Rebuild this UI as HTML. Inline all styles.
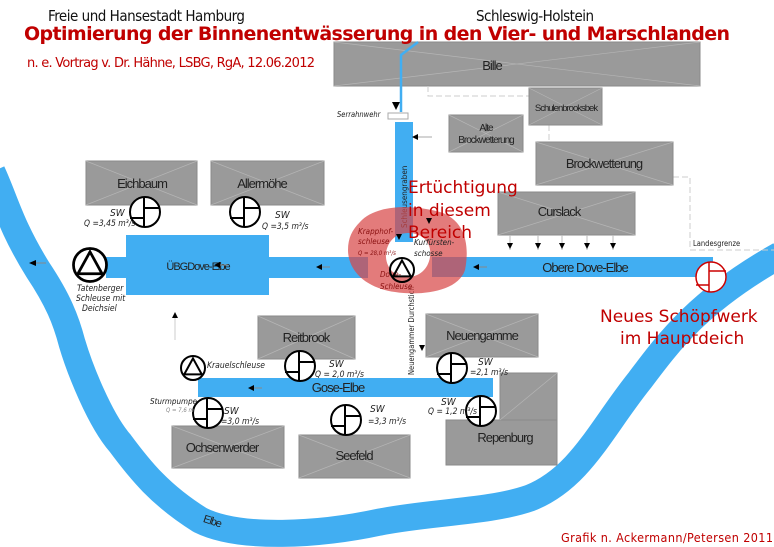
<!DOCTYPE html>
<html><head><meta charset="utf-8"><style>
html,body{margin:0;padding:0;background:#fff;width:774px;height:547px;overflow:hidden}
svg{display:block}
.bx{fill:#9a9a9a;stroke:#8a8a8a;stroke-width:1}
.bl{font-family:"Liberation Sans Narrow","Liberation Sans",sans-serif;font-size:13px;fill:#222;letter-spacing:-1px;text-anchor:middle}
.sm{font-family:"DejaVu Sans Condensed","Liberation Sans",sans-serif;font-style:italic;font-size:8px;fill:#222}
.sw{font-family:"DejaVu Sans Condensed","Liberation Sans",sans-serif;font-style:italic;font-size:10px;fill:#222}
.red{fill:#c00000;font-family:"DejaVu Sans","Liberation Sans",sans-serif}
</style></head><body>
<svg width="774" height="547" viewBox="0 0 774 547" xmlns="http://www.w3.org/2000/svg">
<defs>
<g id="pump"><circle r="15" fill="#fff" stroke="#000" stroke-width="2"/><line x1="-1" y1="-15" x2="-1" y2="15" stroke="#000" stroke-width="2"/><line x1="-1" y1="-4" x2="15" y2="-4" stroke="#000" stroke-width="2"/><line x1="-15" y1="6" x2="-1" y2="6" stroke="#000" stroke-width="2"/></g>
<g id="lock"><circle r="15" fill="#fff" stroke="#000" stroke-width="2.5"/><path d="M0,-12 L-11,8 L11,8 Z" fill="none" stroke="#000" stroke-width="2.5"/></g>
</defs>
<!-- Elbe -->
<path d="M-8,172 C5,200 10,225 38,270 C58,300 66,320 72,343 C80,370 100,420 120,443 C140,470 160,495 200,520 C240,540 320,535 380,522 C430,512 490,512 530,498 C580,478 600,430 640,380 C670,340 700,300 780,255" fill="none" stroke="#41aef2" stroke-width="27"/>
<text x="203" y="525" transform="rotate(18 213 522)" class="bl" style="font-size:11px;text-anchor:start">Elbe</text>
<!-- titles -->
<text x="48" y="21" font-family="DejaVu Sans Condensed,Liberation Sans,sans-serif" font-size="15" fill="#111" textLength="197">Freie und Hansestadt Hamburg</text>
<text x="476" y="21" font-family="DejaVu Sans Condensed,Liberation Sans,sans-serif" font-size="15" fill="#111" textLength="118">Schleswig-Holstein</text>
<!-- Bille -->
<rect x="334" y="42" width="366" height="44" class="bx"/>
<path d="M334,42 L700,86 M700,42 L334,86" stroke="#b5b5b5" stroke-width="0.7"/>
<text x="24" y="40" font-family="DejaVu Sans,Liberation Sans,sans-serif" font-weight="bold" font-size="19" fill="#c00000" textLength="706">Optimierung der Binnenentwässerung in den Vier- und Marschlanden</text>
<text x="27" y="67" class="red" font-size="13" textLength="288">n. e. Vortrag v. Dr. Hähne, LSBG, RgA, 12.06.2012</text>
<text x="492" y="70" class="bl">Bille</text>
<!-- dashed grey lines -->
<path d="M428,86 L428,96 L532,96 M549,125 L549,178 L537,178 M673,177 L690,177 L690,250 L774,250" fill="none" stroke="#ccc" stroke-width="1" stroke-dasharray="6 3"/>
<text x="693" y="246" class="sm" style="font-style:normal;font-size:7.5px">Landesgrenze</text>
<!-- small blue feeder -->
<path d="M418,42 L401,55 L401,112" fill="none" stroke="#41aef2" stroke-width="2.5"/>
<rect x="388" y="113" width="20" height="6" fill="#fff" stroke="#aaa"/>
<text x="337" y="117" class="sm" style="font-size:7.5px">Serrahnwehr</text>
<path d="M392,102 L396,110 L400,102Z" fill="#000"/>
<!-- Schleusengraben -->
<rect x="395" y="122" width="18" height="120" fill="#41aef2"/>
<text transform="translate(407,228) rotate(-90)" class="sm" style="font-style:normal;font-size:8px">Schleusengraben</text>
<path d="M432,137 L418,137" stroke="#aaa"/><path d="M418,134 L412,137 L418,140Z" fill="#000"/>
<!-- other boxes -->
<g>
<rect x="449" y="115" width="74" height="37" class="bx"/><path d="M449,115 L523,152 M523,115 L449,152" stroke="#b5b5b5" stroke-width="0.7"/>
<text x="486" y="131" class="bl" style="font-size:10px">Alte</text><text x="486" y="143" class="bl" style="font-size:10px">Brockwetterung</text>
<rect x="529" y="88" width="73" height="37" class="bx"/><path d="M529,88 L602,125 M602,88 L529,125" stroke="#b5b5b5" stroke-width="0.7"/>
<text x="566" y="111" class="bl" style="font-size:9.5px">Schulenbrooksbek</text>
<rect x="536" y="142" width="137" height="43" class="bx"/><path d="M536,142 L673,185 M673,142 L536,185" stroke="#b5b5b5" stroke-width="0.7"/>
<text x="604" y="168" class="bl">Brockwetterung</text>
<rect x="498" y="192" width="137" height="43" class="bx"/><path d="M498,192 L635,235 M635,192 L498,235" stroke="#b5b5b5" stroke-width="0.7"/>
<text x="559" y="216" class="bl">Curslack</text>
<rect x="86" y="161" width="111" height="44" class="bx"/><path d="M86,161 L197,205 M197,161 L86,205" stroke="#b5b5b5" stroke-width="0.7"/>
<text x="142" y="188" class="bl">Eichbaum</text>
<rect x="211" y="161" width="113" height="44" class="bx"/><path d="M211,161 L324,205 M324,161 L211,205" stroke="#b5b5b5" stroke-width="0.7"/>
<text x="262" y="188" class="bl">Allermöhe</text>
<rect x="258" y="316" width="97" height="43" class="bx"/><path d="M258,316 L355,359 M355,316 L258,359" stroke="#b5b5b5" stroke-width="0.7"/>
<text x="306" y="342" class="bl">Reitbrook</text>
<rect x="426" y="314" width="112" height="43" class="bx"/><path d="M426,314 L538,357 M538,314 L426,357" stroke="#b5b5b5" stroke-width="0.7"/>
<text x="482" y="340" class="bl">Neuengamme</text>
<rect x="500" y="373" width="57" height="92" class="bx"/><rect x="446" y="420" width="111" height="45" class="bx"/>
<path d="M500,420 L557,373" stroke="#b5b5b5" stroke-width="0.7"/>
<text x="505" y="442" class="bl">Repenburg</text>
<rect x="172" y="426" width="112" height="42" class="bx"/><path d="M172,426 L284,468 M284,426 L172,468" stroke="#b5b5b5" stroke-width="0.7"/>
<text x="222" y="452" class="bl">Ochsenwerder</text>
<rect x="299" y="435" width="111" height="43" class="bx"/><path d="M299,435 L410,478 M410,435 L299,478" stroke="#b5b5b5" stroke-width="0.7"/>
<text x="354" y="460" class="bl">Seefeld</text>
</g>
<!-- Curslack arrows -->
<g stroke="#bbb"><path d="M510,235V250M538,235V250M562,235V250M587,235V250M613,235V250"/></g>
<g fill="#000"><path d="M507,243h6l-3,6z M535,243h6l-3,6z M559,243h6l-3,6z M584,243h6l-3,6z M610,243h6l-3,6z"/></g>
<!-- water bands -->
<rect x="126" y="235" width="143" height="60" fill="#41aef2"/>
<rect x="106" y="257" width="262" height="21" fill="#41aef2"/>
<rect x="432" y="257" width="281" height="20" fill="#41aef2"/>
<rect x="198" y="378" width="295" height="19" fill="#41aef2"/>
<text x="198" y="270" class="bl" style="font-size:11px">ÜBGDove-Elbe</text>
<text x="585" y="272" class="bl">Obere Dove-Elbe</text>
<text x="338" y="392" class="bl">Gose-Elbe</text>
<!-- flow arrows -->
<path d="M330,267h-8M228,265h-8M487,267h-8M262,388h-8M46,263h-10" stroke="#888"/>
<g fill="#000"><path d="M322,264l-6,3l6,3z M220,262l-6,3l6,3z M479,264l-6,3l6,3z M254,385l-6,3l6,3z M36,260l-7,3l7,3z M172,318l3,-6l3,6z"/></g>
<path d="M175,318V340" stroke="#ccc"/>
<!-- Neuengammer Durchstich -->
<text transform="translate(414,375) rotate(-90)" class="sm" style="font-style:normal;font-size:7.5px">Neuengammer Durchstich</text>
<path d="M419,345h6l-3,6z" fill="#000"/>
<!-- red blob -->
<path fill-rule="evenodd" fill="#d84848" fill-opacity="0.72" d="M360,222 C375,205 410,204 440,212 C465,220 470,245 465,270 C458,292 420,296 395,292 C365,288 348,270 348,250 C348,238 352,230 360,222 Z M408,233 C425,233 432,245 430,257 C428,270 418,278 405,277 C392,276 385,265 386,253 C388,240 397,233 408,233 Z"/>
<text x="358" y="234" class="sm" style="fill:#8a1010">Krapphof-</text>
<text x="358" y="244" class="sm" style="fill:#8a1010">schleuse</text>
<text x="358" y="255" class="sm" style="fill:#8a1010;font-size:6px">Q = 28,0 m³/s</text>
<text x="414" y="245" class="sm">Kurfürsten-</text>
<text x="414" y="256" class="sm">schosse</text>
<text x="380" y="277" class="sm" style="fill:#8a1010">Dove-</text>
<text x="380" y="289" class="sm" style="fill:#8a1010">Schleuse</text>
<path d="M396,234h6l-3,6z M426,218h6l-3,6z" fill="#000"/>
<g transform="translate(402,270) scale(0.8)"><use href="#lock" fill-opacity="0"/></g>
<text x="408" y="193" class="red" font-size="17">Ertüchtigung</text>
<text x="408" y="216" class="red" font-size="17">in diesem</text>
<text x="408" y="238" class="red" font-size="17">Bereich</text>
<!-- pumps -->
<use href="#pump" x="145" y="212"/><use href="#pump" x="245" y="212"/>
<use href="#pump" x="300" y="366"/><use href="#pump" x="452" y="368"/>
<use href="#pump" x="208" y="413"/><use href="#pump" x="346" y="420"/><use href="#pump" x="481" y="411"/>
<g transform="translate(90,265) scale(1.1)"><use href="#lock"/></g>
<g transform="translate(193,368) scale(0.8)"><use href="#lock"/></g>
<g stroke="#c00" fill="#fff" stroke-width="1.5"><circle cx="711" cy="277" r="15"/><path d="M709,262V292 M709,271H726 M696,285H709" /></g>
<text x="600" y="322" class="red" font-size="17">Neues Schöpfwerk</text>
<text x="620" y="344" class="red" font-size="17">im Hauptdeich</text>
<!-- SW labels -->
<text x="110" y="216" class="sw">SW</text><text x="84" y="226" class="sw" style="font-size:8.5px">Q =3,45 m³/s</text>
<text x="275" y="218" class="sw">SW</text><text x="262" y="229" class="sw" style="font-size:8.5px">Q =3,5 m³/s</text>
<text x="329" y="367" class="sw">SW</text><text x="315" y="377" class="sw" style="font-size:8.5px">Q = 2,0 m³/s</text>
<text x="478" y="365" class="sw">SW</text><text x="470" y="375" class="sw" style="font-size:8.5px">=2,1 m³/s</text>
<text x="224" y="414" class="sw">SW</text><text x="221" y="424" class="sw" style="font-size:8.5px">=3,0 m³/s</text>
<text x="370" y="412" class="sw">SW</text><text x="368" y="424" class="sw" style="font-size:8.5px">=3,3 m³/s</text>
<text x="441" y="405" class="sw">SW</text><text x="428" y="414" class="sw" style="font-size:8.5px">Q = 1,2 m³/s</text>
<text x="150" y="404" class="sw" style="font-size:8px">Sturmpumpe</text>
<text x="166" y="412" class="sw" style="font-size:6px;fill:#888">Q = 7,6 m</text>
<text x="207" y="368" class="sw" style="font-size:8.5px">Krauelschleuse</text>
<text x="77" y="291" class="sw" style="font-size:8.5px">Tatenberger</text>
<text x="76" y="301" class="sw" style="font-size:8.5px">Schleuse mit</text>
<text x="82" y="311" class="sw" style="font-size:8.5px">Deichsiel</text>
<text x="561" y="542" class="red" font-size="12.5" textLength="212" style="font-family:'DejaVu Sans Condensed','Liberation Sans',sans-serif">Grafik n. Ackermann/Petersen 2011</text>
</svg>
</body></html>
